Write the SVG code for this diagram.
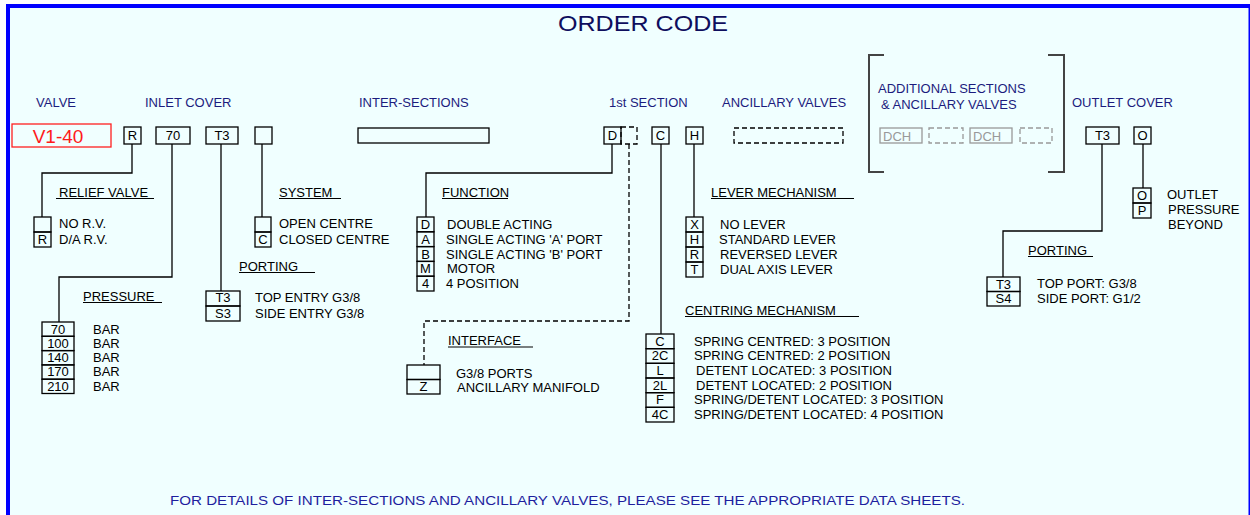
<svg xmlns="http://www.w3.org/2000/svg" width="1250" height="515" viewBox="0 0 1250 515">
<style>
text{font-family:"Liberation Sans",Arial,sans-serif;font-size:13px;fill:#000}
.hd{fill:#1c1c7e}
.ttl{fill:#0e0e5e;font-size:22px}
.box{fill:none;stroke:#000;stroke-width:1.3}
.dbox{fill:none;stroke:#000;stroke-width:1.3;stroke-dasharray:5 3}
.gbox{fill:none;stroke:#999;stroke-width:1.3}
.gdbox{fill:none;stroke:#999;stroke-width:1.3;stroke-dasharray:5 3}
.ln{fill:none;stroke:#000;stroke-width:1.3}
.dln{fill:none;stroke:#000;stroke-width:1.3;stroke-dasharray:5 3}
.ul{stroke:#000;stroke-width:1.1}
.c{text-anchor:middle}
.br{fill:none;stroke:#444;stroke-width:2}
</style>
<rect x="0" y="0" width="1250" height="515" fill="#fff"/>
<rect x="8" y="6" width="1241" height="509" fill="#f0ffff"/>
<rect x="6" y="4" width="1244" height="4" fill="#0000ff"/>
<rect x="6" y="4" width="4" height="511" fill="#0000ff"/>
<rect x="1248.5" y="4" width="1.5" height="511" fill="#0000ff"/>

<text class="ttl c" x="643" y="31" textLength="170" lengthAdjust="spacingAndGlyphs">ORDER CODE</text>

<g id="headings">
<text class="hd" x="36" y="107">VALVE</text>
<text class="hd" x="145" y="107">INLET COVER</text>
<text class="hd" x="359" y="107">INTER-SECTIONS</text>
<text class="hd" x="609" y="107">1st SECTION</text>
<text class="hd" x="722" y="107">ANCILLARY VALVES</text>
<text class="hd" x="878" y="93">ADDITIONAL SECTIONS</text>
<text class="hd" x="881" y="109">&amp; ANCILLARY VALVES</text>
<text class="hd" x="1072" y="107">OUTLET COVER</text>
</g>

<g id="code-row">
<g id="valve"><rect x="12" y="124" width="99" height="23" fill="none" stroke="#ff2020" stroke-width="1.3"/><text class="c" x="58" y="143" style="font-size:19px;fill:#ff1a1a">V1-40</text></g>
<g id="code-R"><rect class="box" x="124" y="127" width="17" height="17"/><text class="c" x="132.5" y="140">R</text></g>
<g id="code-70"><rect class="box" x="156" y="127" width="34" height="17"/><text class="c" x="173" y="140">70</text></g>
<g id="code-T3"><rect class="box" x="206" y="127" width="32" height="17"/><text class="c" x="222" y="140">T3</text></g>
<g id="code-sys"><rect class="box" x="255" y="127" width="17" height="17"/></g>
<g id="code-inter"><rect class="box" x="358" y="128" width="131" height="15"/></g>
<g id="code-D"><rect class="box" x="604" y="127" width="17" height="17"/><text class="c" x="612.5" y="140">D</text></g>
<g id="code-dash"><rect class="dbox" x="621" y="127" width="16" height="17"/></g>
<g id="code-C"><rect class="box" x="652" y="127" width="17" height="17"/><text class="c" x="660.5" y="140">C</text></g>
<g id="code-H"><rect class="box" x="686" y="127" width="17" height="17"/><text class="c" x="694.5" y="140">H</text></g>
<g id="code-anc"><rect class="dbox" x="734" y="128" width="109" height="15"/></g>
<g id="additional">
<path class="br" d="M884 55H869V172H884"/>
<path class="br" d="M1048 55H1064V172H1048"/>
<rect class="gbox" x="880" y="128" width="42" height="15"/><text x="883" y="141" style="fill:#999">DCH</text>
<rect class="gdbox" x="929" y="128" width="34" height="15"/>
<rect class="gbox" x="970" y="128" width="42" height="15"/><text x="973" y="141" style="fill:#999">DCH</text>
<rect class="gdbox" x="1020" y="128" width="32" height="15"/>
</g>
<g id="code-outT3"><rect class="box" x="1086" y="127" width="33" height="17"/><text class="c" x="1102.5" y="140">T3</text></g>
<g id="code-O"><rect class="box" x="1134" y="127" width="17" height="17"/><text class="c" x="1142.5" y="140">O</text></g>
</g>

<g id="connectors">
<path class="ln" d="M132 144V173H42V217"/>
<path class="ln" d="M172 144V277H59V322"/>
<path class="ln" d="M221 144V291"/>
<path class="ln" d="M262 144V217"/>
<path class="ln" d="M612 144V173H426V217"/>
<path class="dln" d="M629 144V321H424V365"/>
<path class="ln" d="M661 144V334"/>
<path class="ln" d="M694 144V217"/>
<path class="ln" d="M1102 144V231H1003V277"/>
<path class="ln" d="M1143 144V188"/>
</g>

<g id="relief-valve">
<text x="59" y="197">RELIEF VALVE</text><line class="ul" x1="56" y1="198.5" x2="154" y2="198.5"/>
<rect class="box" x="34" y="217" width="17" height="15"/><rect class="box" x="34" y="232" width="17" height="15"/>
<text class="c" x="42.5" y="244">R</text>
<text x="59" y="228">NO R.V.</text><text x="59" y="244">D/A R.V.</text>
</g>

<g id="system">
<text x="279" y="197">SYSTEM</text><line class="ul" x1="279" y1="198.5" x2="341" y2="198.5"/>
<rect class="box" x="255" y="217" width="16" height="15"/><rect class="box" x="255" y="232" width="16" height="15"/>
<text class="c" x="263" y="244">C</text>
<text x="279" y="228">OPEN CENTRE</text><text x="279" y="244">CLOSED CENTRE</text>
</g>

<g id="porting-inlet">
<text x="239" y="271">PORTING</text><line class="ul" x1="239" y1="272.5" x2="315" y2="272.5"/>
<rect class="box" x="206" y="291" width="34" height="15"/><rect class="box" x="206" y="306" width="34" height="15"/>
<text class="c" x="223" y="302">T3</text><text class="c" x="223" y="318">S3</text>
<text x="255" y="302">TOP ENTRY G3/8</text><text x="255" y="318">SIDE ENTRY G3/8</text>
</g>

<g id="pressure">
<text x="83" y="301">PRESSURE</text><line class="ul" x1="83" y1="302.5" x2="162" y2="302.5"/>
<rect class="box" x="42" y="322" width="32" height="14.3"/>
<rect class="box" x="42" y="336.3" width="32" height="14.3"/>
<rect class="box" x="42" y="350.6" width="32" height="14.3"/>
<rect class="box" x="42" y="364.9" width="32" height="14.3"/>
<rect class="box" x="42" y="379.2" width="32" height="14.3"/>
<text class="c" x="58" y="333.5">70</text><text class="c" x="58" y="347.8">100</text><text class="c" x="58" y="362.1">140</text><text class="c" x="58" y="376.4">170</text><text class="c" x="58" y="390.7">210</text>
<text x="93" y="333.5">BAR</text><text x="93" y="347.8">BAR</text><text x="93" y="362.1">BAR</text><text x="93" y="376.4">BAR</text><text x="93" y="390.7">BAR</text>
</g>

<g id="function">
<text x="442" y="197">FUNCTION</text><line class="ul" x1="442" y1="198.5" x2="508" y2="198.5"/>
<rect class="box" x="417" y="217" width="17" height="14.8"/>
<rect class="box" x="417" y="231.8" width="17" height="14.8"/>
<rect class="box" x="417" y="246.6" width="17" height="14.8"/>
<rect class="box" x="417" y="261.4" width="17" height="14.8"/>
<rect class="box" x="417" y="276.2" width="17" height="14.8"/>
<text class="c" x="425.5" y="229">D</text><text class="c" x="425.5" y="243.8">A</text><text class="c" x="425.5" y="258.6">B</text><text class="c" x="425.5" y="273.4">M</text><text class="c" x="425.5" y="288.2">4</text>
<text x="447" y="229">DOUBLE ACTING</text><text x="446" y="243.8">SINGLE ACTING 'A' PORT</text><text x="446" y="258.6">SINGLE ACTING 'B' PORT</text><text x="447" y="273.4">MOTOR</text><text x="446" y="288.2">4 POSITION</text>
</g>

<g id="interface">
<text x="448" y="345">INTERFACE</text><line class="ul" x1="448" y1="347" x2="533" y2="347"/>
<rect class="box" x="407" y="365" width="33" height="14.5"/><rect class="box" x="407" y="379.5" width="33" height="14.5"/>
<text class="c" x="423.5" y="391">Z</text>
<text x="456" y="377.5">G3/8 PORTS</text><text x="457" y="392">ANCILLARY MANIFOLD</text>
</g>

<g id="lever">
<text x="711" y="197">LEVER MECHANISM</text><line class="ul" x1="711" y1="198.5" x2="854" y2="198.5"/>
<rect class="box" x="686" y="217" width="17" height="15"/>
<rect class="box" x="686" y="232" width="17" height="15"/>
<rect class="box" x="686" y="247" width="17" height="15"/>
<rect class="box" x="686" y="262" width="17" height="15"/>
<text class="c" x="694.5" y="229">X</text><text class="c" x="694.5" y="244">H</text><text class="c" x="694.5" y="259">R</text><text class="c" x="694.5" y="274">T</text>
<text x="720" y="229">NO LEVER</text><text x="719" y="244">STANDARD LEVER</text><text x="720" y="259">REVERSED LEVER</text><text x="720" y="274">DUAL AXIS LEVER</text>
</g>

<g id="centring">
<text x="685" y="315">CENTRING MECHANISM</text><line class="ul" x1="685" y1="316.5" x2="859" y2="316.5"/>
<rect class="box" x="646" y="334" width="28" height="14.67"/>
<rect class="box" x="646" y="348.67" width="28" height="14.67"/>
<rect class="box" x="646" y="363.33" width="28" height="14.67"/>
<rect class="box" x="646" y="378" width="28" height="14.67"/>
<rect class="box" x="646" y="392.67" width="28" height="14.67"/>
<rect class="box" x="646" y="407.33" width="28" height="14.67"/>
<text class="c" x="660" y="345.5">C</text><text class="c" x="660" y="360.2">2C</text><text class="c" x="660" y="374.8">L</text><text class="c" x="660" y="389.5">2L</text><text class="c" x="660" y="404.2">F</text><text class="c" x="660" y="418.8">4C</text>
<text x="694" y="345.5">SPRING CENTRED: 3 POSITION</text><text x="694" y="360.2">SPRING CENTRED: 2 POSITION</text><text x="696" y="374.8">DETENT LOCATED: 3 POSITION</text><text x="696" y="389.5">DETENT LOCATED: 2 POSITION</text><text x="694" y="404.2">SPRING/DETENT LOCATED: 3 POSITION</text><text x="694" y="418.8">SPRING/DETENT LOCATED: 4 POSITION</text>
</g>

<g id="outlet">
<rect class="box" x="1133" y="188" width="18" height="15"/><rect class="box" x="1133" y="203" width="18" height="15"/>
<text class="c" x="1142" y="200">O</text><text class="c" x="1142" y="215">P</text>
<text x="1167" y="199">OUTLET</text><text x="1168" y="214">PRESSURE</text><text x="1168" y="229">BEYOND</text>
</g>

<g id="porting-outlet">
<text x="1028" y="255">PORTING</text><line class="ul" x1="1028" y1="256.5" x2="1093" y2="256.5"/>
<rect class="box" x="987" y="277" width="33" height="14.5"/><rect class="box" x="987" y="291.5" width="33" height="14.5"/>
<text class="c" x="1003.5" y="288.5">T3</text><text class="c" x="1003.5" y="303">S4</text>
<text x="1037" y="288">TOP PORT: G3/8</text><text x="1037" y="302.5">SIDE PORT: G1/2</text>
</g>

<text x="170" y="505" class="hd" style="fill:#1e1e9e" textLength="795" lengthAdjust="spacingAndGlyphs">FOR DETAILS OF INTER-SECTIONS AND ANCILLARY VALVES, PLEASE SEE THE APPROPRIATE DATA SHEETS.</text>
</svg>
